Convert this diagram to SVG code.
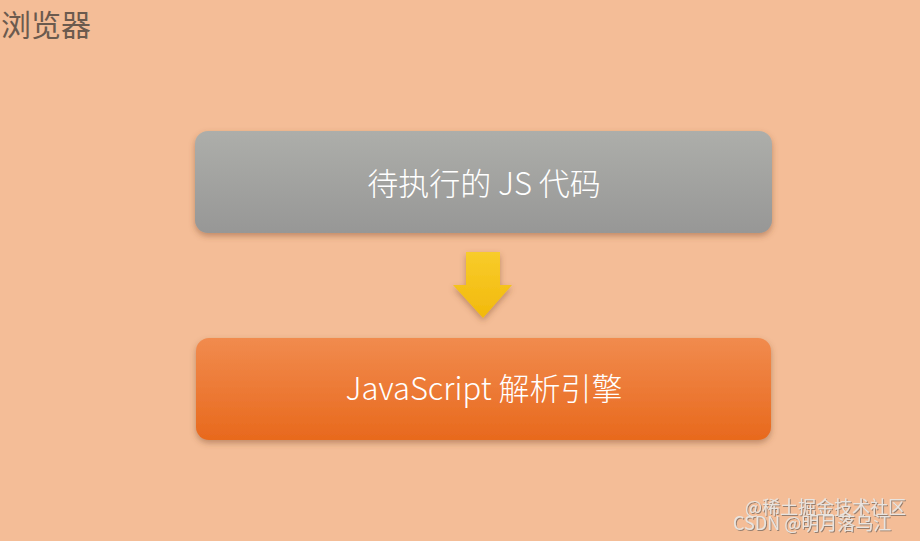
<svg xmlns="http://www.w3.org/2000/svg" width="920" height="541" viewBox="0 0 920 541">
<defs>
<linearGradient id="gGray" x1="0" y1="0" x2="0" y2="1"><stop offset="0" stop-color="#adaeaa"/><stop offset="1" stop-color="#979796"/></linearGradient>
<linearGradient id="gOrange" x1="0" y1="0" x2="0" y2="1"><stop offset="0" stop-color="#f18b4e"/><stop offset="1" stop-color="#e8691d"/></linearGradient>
<linearGradient id="gYellow" x1="0" y1="0" x2="0" y2="1"><stop offset="0" stop-color="#f8cc2a"/><stop offset="1" stop-color="#f2b90c"/></linearGradient>
<filter id="sh" x="-10%" y="-20%" width="120%" height="150%"><feDropShadow dx="0" dy="3" stdDeviation="3" flood-color="#7a4a2a" flood-opacity="0.45"/></filter>
<filter id="wm"><feDropShadow dx="1" dy="1" stdDeviation="0.6" flood-color="#555" flood-opacity="0.6"/></filter>
</defs>
<style>
.t{font-family:"Noto Sans CJK SC","Noto Sans",sans-serif;fill:#ffffff;font-size:31px;text-anchor:middle;font-weight:300}
.w{font-family:"Noto Sans CJK SC","Liberation Sans",sans-serif;fill:#e8e4e0;font-size:18px}
</style>
<rect width="920" height="541" fill="#f4bd97"/>
<text x="1" y="36" font-family="Noto Sans CJK SC, sans-serif" font-size="30" fill="#6b5a4e">浏览器</text>
<g id="node-code">
<rect x="195" y="131" width="577" height="102" rx="13" fill="url(#gGray)" filter="url(#sh)"/>
<text class="t" x="484" y="195">待执行的 JS 代码</text>
</g>
<g id="connectors">
<path d="M466 252 H500 V285 H512 L483 318 L453 285 H466 Z" fill="url(#gYellow)" filter="url(#sh)"/>
</g>
<g id="node-engine">
<rect x="196" y="338" width="575" height="102" rx="13" fill="url(#gOrange)" filter="url(#sh)"/>
<text class="t" x="484" y="400">JavaScript 解析引擎</text>
</g>
<g filter="url(#wm)">
<text class="w" x="745" y="514" font-size="17">@稀土掘金技术社区</text>
<text class="w" x="733" y="530">CSDN @明月落乌江</text>
</g>
</svg>
